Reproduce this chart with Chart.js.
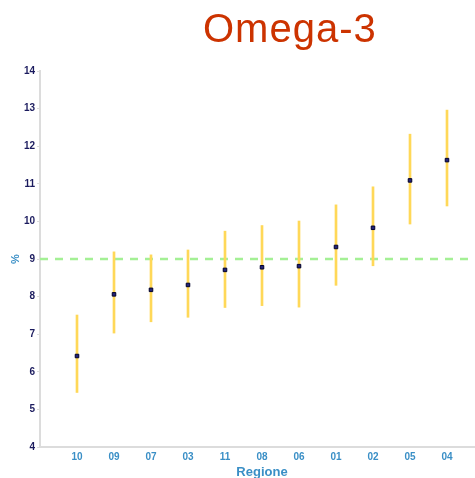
<!DOCTYPE html>
<html>
<head>
<meta charset="utf-8">
<script src="https://cdn.jsdelivr.net/npm/chart.js@4"></script>
<style>
  html, body { margin: 0; padding: 0; background: #ffffff; overflow: hidden; }
  #wrap { position: relative; width: 475px; height: 478px; overflow: hidden; }
  #title {
    position: absolute; left: 203px; top: 6px;
    font-family: "Liberation Sans", Arial, sans-serif;
    font-size: 40px; letter-spacing: 1px; color: #cc3300; white-space: nowrap;
  }
  canvas { position: absolute; left: 0; top: 0; }
</style>
</head>
<body>
<div id="wrap">
  <canvas id="chart" width="489" height="478"></canvas>
  <div id="title">Omega-3</div>
</div>
<script>
const regioni = ["10", "09", "07", "03", "11", "08", "06", "01", "02", "05", "04"];
const valori = [6.42, 8.06, 8.18, 8.31, 8.71, 8.78, 8.81, 9.32, 9.83, 11.09, 11.63];
const limInf = [5.45, 7.03, 7.33, 7.45, 7.71, 7.76, 7.72, 8.30, 8.82, 9.93, 10.41];
const limSup = [7.51, 9.19, 9.11, 9.24, 9.74, 9.89, 10.01, 10.44, 10.92, 12.32, 12.96];
const riferimento = 9;

const font = "'Liberation Sans', Arial, sans-serif";

new Chart(document.getElementById("chart"), {
  data: {
    datasets: [
      {
        type: "line",
        label: "Riferimento",
        data: [{ x: 0, y: riferimento }, { x: 12, y: riferimento }],
        borderColor: "#a4f095",
        borderWidth: 2.5,
        borderDash: [8, 7],
        pointRadius: 0,
        order: 3,
      },
      {
        type: "bar",
        label: "Intervallo",
        data: regioni.map((r, i) => ({ x: i + 1, y: [limInf[i], limSup[i]] })),
        backgroundColor: "#ffd858",
        borderWidth: 0,
        barThickness: 2,
        order: 2,
      },
      {
        type: "line",
        label: "Valore",
        data: regioni.map((r, i) => ({ x: i + 1, y: valori[i] })),
        showLine: false,
        pointStyle: "rect",
        pointRadius: 2.5,
        pointBackgroundColor: "#23237a",
        pointBorderColor: "#00002a",
        pointBorderWidth: 1,
        order: 1,
      },
    ],
  },
  options: {
    responsive: false,
    animation: false,
    layout: { padding: { top: 71, right: 1, left: 0, bottom: 0 } },
    plugins: { legend: { display: false }, tooltip: { enabled: false } },
    scales: {
      x: {
        type: "linear",
        min: 0,
        max: 12,
        offset: false,
        grid: { display: false, drawTicks: false, tickLength: 0 },
        border: { display: true, color: "#dcdcdc", width: 2 },
        ticks: {
          stepSize: 1,
          autoSkip: false,
          maxRotation: 0,
          padding: 4,
          color: "#3a8fc6",
          font: { family: font, size: 10, weight: "bold" },
          callback: (v) => regioni[v - 1] || "",
        },
        title: {
          display: true,
          text: "Regione",
          color: "#3a8fc6",
          padding: { top: 0, bottom: -2 },
          font: { family: font, size: 13, weight: "bold" },
        },
        afterFit: (s) => { s.height = 31; },
      },
      y: {
        min: 4,
        max: 14,
        grid: { drawOnChartArea: false, color: "#dcdcdc", tickLength: 3 },
        border: { display: true, color: "#dcdcdc", width: 2 },
        ticks: {
          stepSize: 1,
          padding: 2,
          color: "#1b1b5e",
          font: { family: font, size: 10, weight: "bold" },
        },
        title: {
          display: true,
          text: "%",
          color: "#3a8fc6",
          padding: { top: 9, bottom: 0 },
          font: { family: font, size: 11, weight: "bold" },
        },
        afterFit: (s) => { s.width = 40; },
      },
    },
  },
});
</script>
</body>
</html>
